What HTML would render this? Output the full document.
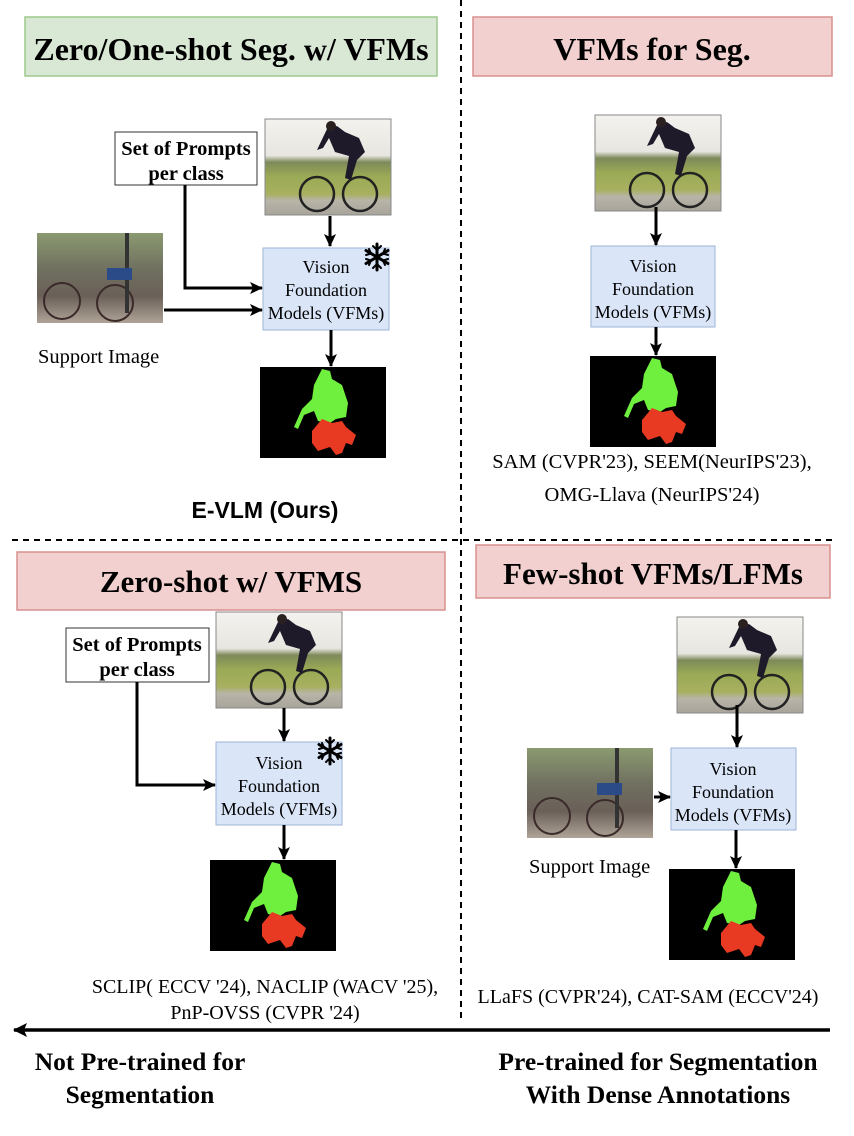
<!DOCTYPE html>
<html><head><meta charset="utf-8"><style>
html,body{margin:0;padding:0;background:#fff;}
svg{display:block;font-family:"Liberation Serif",serif;}
</style></head><body>
<svg width="854" height="1136" viewBox="0 0 854 1136" xmlns="http://www.w3.org/2000/svg">
<defs>
<marker id="ah" markerWidth="13" markerHeight="12" refX="12" refY="6" orient="auto" markerUnits="userSpaceOnUse"><path d="M0,0 L13,6 L0,12 L3,6 Z" fill="#000"/></marker>
<marker id="ah2" markerWidth="14" markerHeight="14" refX="13" refY="7" orient="auto" markerUnits="userSpaceOnUse"><path d="M0,0 L14,7 L0,14 L3,7 Z" fill="#000"/></marker>
<linearGradient id="sky" x1="0" y1="0" x2="0" y2="1">
<stop offset="0" stop-color="#f4f2ee"/><stop offset="0.38" stop-color="#e8e6e0"/><stop offset="0.45" stop-color="#7d8a5a"/><stop offset="0.6" stop-color="#9aaa55"/><stop offset="0.78" stop-color="#a8b060"/><stop offset="0.85" stop-color="#b8b4a8"/><stop offset="1" stop-color="#a8a49a"/></linearGradient>
<linearGradient id="sup" x1="0" y1="0" x2="0" y2="1">
<stop offset="0" stop-color="#8a9a70"/><stop offset="0.4" stop-color="#707060"/><stop offset="0.7" stop-color="#6a6058"/><stop offset="1" stop-color="#b0a498"/></linearGradient>
<g id="photo">
<rect x="0" y="0" width="126" height="96" fill="url(#sky)" stroke="#888" stroke-width="1"/>
<circle cx="52" cy="75" r="17" fill="none" stroke="#222" stroke-width="2.5"/>
<circle cx="95" cy="75" r="17" fill="none" stroke="#222" stroke-width="2.5"/>
<path d="M62,10 l10,-3 l8,6 l14,6 l6,14 l-8,8 l-6,20 l-6,-2 l4,-22 l-14,-4 l-6,-14 l-6,10 l-6,2 z" fill="#1e1a2a"/>
<circle cx="66" cy="7" r="5" fill="#2a2020"/>
</g>
<g id="supimg">
<rect x="0" y="0" width="126" height="90" fill="url(#sup)"/>
<circle cx="25" cy="68" r="18" fill="none" stroke="#3a2a2a" stroke-width="2"/>
<circle cx="78" cy="70" r="18" fill="none" stroke="#3a2a2a" stroke-width="2"/>
<rect x="88" y="0" width="4" height="80" fill="#333"/>
<rect x="70" y="35" width="25" height="12" fill="#2a4a88"/>
</g>
<g id="mask">
<rect x="0" y="0" width="126" height="91" fill="#000"/>
<path d="M62,2 l8,2 l2,8 l10,6 l6,18 l-2,14 l-10,2 l-6,4 l-12,-2 l-4,-10 l-10,4 l-6,14 l-4,-2 l8,-18 l10,-10 l2,-14 z" fill="#6ff03e"/>
<path d="M62,52 l10,4 l10,-2 l4,6 l10,8 l-4,10 l-6,-2 l-4,10 l-6,2 l-6,-8 l-12,4 l-6,-8 l0,-12 z" fill="#e83a22"/>
</g>
<g id="snow" stroke="#000" stroke-width="3" stroke-linecap="round">
<line x1="0" y1="-13" x2="0" y2="13"/><line x1="-11" y1="-6.5" x2="11" y2="6.5"/><line x1="-11" y1="6.5" x2="11" y2="-6.5"/>
<path d="M-4,-11 L0,-7 L4,-11 M-4,11 L0,7 L4,11 M-11,-2 L-6,-3.5 L-8,-8 M11,2 L6,3.5 L8,8 M-11,2 L-6,3.5 L-8,8 M11,-2 L6,-3.5 L8,-8" fill="none" stroke-width="2"/>
</g>
</defs>

<line x1="461" y1="0" x2="461" y2="1022" stroke="#000" stroke-width="2" stroke-dasharray="6,5"/>
<line x1="12" y1="540" x2="834" y2="540" stroke="#000" stroke-width="2" stroke-dasharray="6,5"/>

<!-- TL -->
<rect x="25" y="17" width="412" height="59" fill="#d9e8d5" stroke="#9cc98c" stroke-width="1.5"/>
<text x="231" y="60" font-size="32" font-weight="bold" text-anchor="middle">Zero/One-shot Seg. w/ VFMs</text>
<rect x="115" y="132" width="142" height="53" fill="#fff" stroke="#333" stroke-width="1"/>
<text x="186" y="155" font-size="20.5" font-weight="bold" text-anchor="middle">Set of Prompts</text>
<text x="186" y="180" font-size="20.5" font-weight="bold" text-anchor="middle">per class</text>
<use href="#photo" x="265" y="119"/>
<rect x="263" y="248" width="126" height="82" fill="#dae6f8" stroke="#9db4d8" stroke-width="1"/>
<text x="326" y="273" font-size="18" text-anchor="middle">Vision</text>
<text x="326" y="296" font-size="18" text-anchor="middle">Foundation</text>
<text x="326" y="319" font-size="18" text-anchor="middle">Models (VFMs)</text>
<use href="#snow" x="377" y="257"/>
<use href="#supimg" x="37" y="233"/>
<text x="38" y="363" font-size="20.5">Support Image</text>
<use href="#mask" x="260" y="367"/>
<line x1="330" y1="216" x2="330" y2="246" stroke="#000" stroke-width="3" marker-end="url(#ah)"/>
<polyline points="185,185 185,288 262,288" fill="none" stroke="#000" stroke-width="3" marker-end="url(#ah)"/>
<line x1="164" y1="310" x2="262" y2="310" stroke="#000" stroke-width="3" marker-end="url(#ah)"/>
<line x1="331" y1="330" x2="331" y2="366" stroke="#000" stroke-width="3" marker-end="url(#ah)"/>
<text x="265" y="518" font-size="23" font-weight="bold" text-anchor="middle" font-family="Liberation Sans, sans-serif">E-VLM (Ours)</text>

<!-- TR -->
<rect x="473" y="17" width="359" height="59" fill="#f2d0cf" stroke="#d8918f" stroke-width="1.5"/>
<text x="652" y="60" font-size="32" font-weight="bold" text-anchor="middle">VFMs for Seg.</text>
<use href="#photo" x="595" y="115"/>
<rect x="591" y="246" width="124" height="81" fill="#dae6f8" stroke="#9db4d8" stroke-width="1"/>
<text x="653" y="272" font-size="18" text-anchor="middle">Vision</text>
<text x="653" y="295" font-size="18" text-anchor="middle">Foundation</text>
<text x="653" y="318" font-size="18" text-anchor="middle">Models (VFMs)</text>
<use href="#mask" x="590" y="356"/>
<line x1="656" y1="207" x2="656" y2="245" stroke="#000" stroke-width="3" marker-end="url(#ah)"/>
<line x1="656" y1="327" x2="656" y2="355" stroke="#000" stroke-width="3" marker-end="url(#ah)"/>
<text x="652" y="468" font-size="20.5" text-anchor="middle">SAM (CVPR'23), SEEM(NeurIPS'23),</text>
<text x="652" y="501" font-size="20.5" text-anchor="middle">OMG-Llava (NeurIPS'24)</text>

<!-- BL -->
<rect x="17" y="552" width="428" height="58" fill="#f2d0cf" stroke="#d8918f" stroke-width="1.5"/>
<text x="231" y="592" font-size="31" font-weight="bold" text-anchor="middle">Zero-shot w/ VFMS</text>
<rect x="66" y="628" width="143" height="54" fill="#fff" stroke="#333" stroke-width="1"/>
<text x="137" y="651" font-size="20.5" font-weight="bold" text-anchor="middle">Set of Prompts</text>
<text x="137" y="676" font-size="20.5" font-weight="bold" text-anchor="middle">per class</text>
<use href="#photo" x="216" y="612"/>
<rect x="216" y="742" width="126" height="83" fill="#dae6f8" stroke="#9db4d8" stroke-width="1"/>
<text x="279" y="769" font-size="18" text-anchor="middle">Vision</text>
<text x="279" y="792" font-size="18" text-anchor="middle">Foundation</text>
<text x="279" y="815" font-size="18" text-anchor="middle">Models (VFMs)</text>
<use href="#snow" x="330" y="751"/>
<use href="#mask" x="210" y="860"/>
<line x1="284" y1="708" x2="284" y2="741" stroke="#000" stroke-width="3" marker-end="url(#ah)"/>
<polyline points="137,682 137,785 215,785" fill="none" stroke="#000" stroke-width="3" marker-end="url(#ah)"/>
<line x1="284" y1="825" x2="284" y2="859" stroke="#000" stroke-width="3" marker-end="url(#ah)"/>
<text x="265" y="993" font-size="20" text-anchor="middle">SCLIP( ECCV '24), NACLIP (WACV '25),</text>
<text x="265" y="1019" font-size="20" text-anchor="middle">PnP-OVSS (CVPR '24)</text>

<!-- BR -->
<rect x="476" y="545" width="354" height="53" fill="#f2d0cf" stroke="#d8918f" stroke-width="1.5"/>
<text x="653" y="584" font-size="31" font-weight="bold" text-anchor="middle">Few-shot VFMs/LFMs</text>
<use href="#photo" x="677" y="617"/>
<rect x="671" y="748" width="125" height="82" fill="#dae6f8" stroke="#9db4d8" stroke-width="1"/>
<text x="733" y="775" font-size="18" text-anchor="middle">Vision</text>
<text x="733" y="798" font-size="18" text-anchor="middle">Foundation</text>
<text x="733" y="821" font-size="18" text-anchor="middle">Models (VFMs)</text>
<use href="#supimg" x="527" y="748"/>
<text x="529" y="873" font-size="20.5">Support Image</text>
<use href="#mask" x="669" y="869"/>
<line x1="737" y1="705" x2="737" y2="747" stroke="#000" stroke-width="3" marker-end="url(#ah)"/>
<line x1="654" y1="797" x2="670" y2="797" stroke="#000" stroke-width="3" marker-end="url(#ah)"/>
<line x1="736" y1="830" x2="736" y2="868" stroke="#000" stroke-width="3" marker-end="url(#ah)"/>
<text x="648" y="1003" font-size="20" text-anchor="middle">LLaFS (CVPR'24), CAT-SAM (ECCV'24)</text>

<!-- bottom axis -->
<line x1="830" y1="1030" x2="14" y2="1030" stroke="#000" stroke-width="3.5" marker-end="url(#ah2)"/>
<text x="140" y="1070" font-size="25.5" font-weight="bold" text-anchor="middle">Not Pre-trained for</text>
<text x="140" y="1103" font-size="25.5" font-weight="bold" text-anchor="middle">Segmentation</text>
<text x="658" y="1070" font-size="25.5" font-weight="bold" text-anchor="middle">Pre-trained for Segmentation</text>
<text x="658" y="1103" font-size="25.5" font-weight="bold" text-anchor="middle">With Dense Annotations</text>
</svg>
</body></html>
